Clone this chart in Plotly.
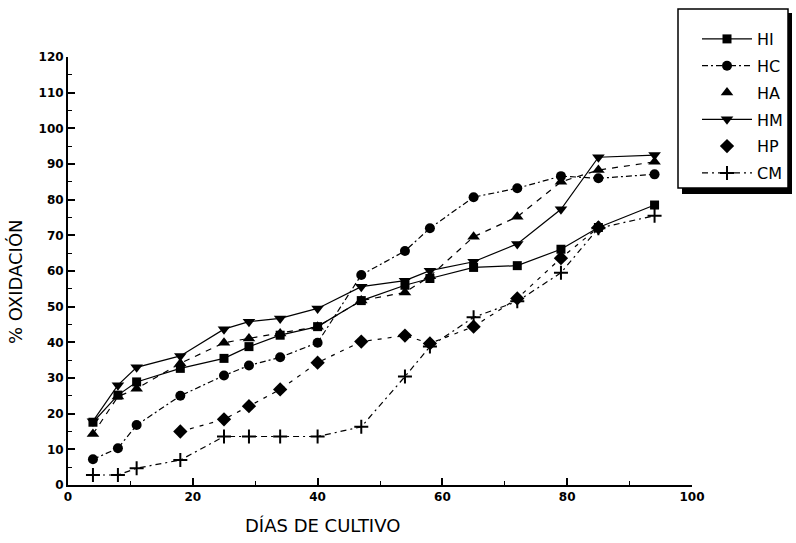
import plotly.graph_objects as go

# Días de cultivo en que se midió la oxidación
dias = [4, 8, 11, 18, 25, 29, 34, 40, 47, 54, 58, 65, 72, 79, 85, 94]

# % de oxidación por tratamiento
hi = [17.6, 25.2, 28.9, 32.7, 35.5, 38.8, 42.0, 44.4, 51.7, 56.0, 57.9, 61.0, 61.5, 66.1, 72.2, 78.5]
hc = [7.2, 10.3, 16.8, 25.0, 30.7, 33.5, 35.8, 39.9, 58.9, 65.6, 72.0, 80.7, 83.2, 86.6, 86.0, 87.1]
ha = [14.3, 24.8, 27.0, 34.1, 39.9, 41.1, 42.5, 44.4, 51.7, 54.0, 58.5, 69.6, 75.2, 85.0, 88.3, 90.6]
hm = [17.9, 28.0, 33.0, 36.2, 43.7, 45.8, 46.7, 49.5, 55.6, 57.3, 60.1, 62.6, 67.6, 77.3, 91.9, 92.5]
dias_hp = [18, 25, 29, 34, 40, 47, 54, 58, 65, 72, 79, 85]
hp = [15.0, 18.4, 22.1, 26.8, 34.3, 40.2, 41.9, 39.7, 44.4, 52.3, 63.6, 72.2]
cm = [2.8, 2.8, 4.7, 7.0, 13.6, 13.6, 13.6, 13.6, 16.3, 30.4, 38.8, 47.0, 51.5, 59.5, 72.0, 75.5]

FONT = "DejaVu Sans"
INK = "black"

# Área de trazado en píxeles (para ubicar la leyenda en coordenadas de papel)
W, H = 796, 543
ML, MR, MT, MB = 68, 104, 57, 58
PW, PH = W - ML - MR, H - MT - MB


def px_x(px):
    return (px - ML) / PW


def px_y(py):
    return (H - MB - py) / PH


fig = go.Figure()


def serie(nombre, x, y, simbolo, tam, dash, linea_en_leyenda=True):
    marker = dict(symbol=simbolo, size=tam, color=INK)
    if simbolo == "cross-thin":
        marker["line"] = dict(color=INK, width=2)
    if linea_en_leyenda:
        fig.add_trace(go.Scatter(
            x=x, y=y, name=nombre, mode="lines+markers",
            line=dict(color=INK, width=1.2, dash=dash),
            marker=marker, legendgroup=nombre,
        ))
    else:
        fig.add_trace(go.Scatter(
            x=x, y=y, name=nombre, mode="lines",
            line=dict(color=INK, width=1.2, dash=dash),
            showlegend=False, legendgroup=nombre,
        ))
        fig.add_trace(go.Scatter(
            x=x, y=y, name=nombre, mode="markers",
            marker=marker, legendgroup=nombre,
        ))


serie("HI", dias, hi, "square", 9, "solid")
serie("HC", dias, hc, "circle", 10, "6px,3px,2px,3px")
serie("HA", dias, ha, "triangle-up", 11, "6px,6px", linea_en_leyenda=False)
serie("HM", dias, hm, "triangle-down", 11, "solid")
serie("HP", dias_hp, hp, "diamond", 11, "4px,6px", linea_en_leyenda=False)
serie("CM", dias, cm, "cross-thin", 10, "6px,4px,2px,4px")

tick_font = dict(family=FONT, size=12, color=INK, weight="bold")

fig.update_layout(
    width=W, height=H,
    margin=dict(l=ML, r=MR, t=MT, b=MB, autoexpand=False),
    paper_bgcolor="white", plot_bgcolor="white",
    showlegend=True,
    legend=dict(
        x=px_x(697), y=px_y(22), xanchor="left", yanchor="top",
        bgcolor="rgba(0,0,0,0)", borderwidth=0,
        font=dict(family=FONT, size=16, color=INK),
        tracegroupgap=3, itemwidth=50,
    ),
    xaxis=dict(
        range=[0, 100], dtick=20, tick0=0,
        ticks="inside", ticklen=7, tickwidth=1.5, tickcolor=INK,
        minor=dict(dtick=10, ticks="inside", ticklen=4, tickcolor=INK, tickwidth=1.2),
        showline=True, linewidth=2, linecolor=INK,
        showgrid=False, zeroline=False,
        tickfont=tick_font,
    ),
    yaxis=dict(
        range=[0, 120], dtick=10, tick0=0,
        ticks="inside", ticklen=7, tickwidth=1.5, tickcolor=INK,
        minor=dict(dtick=5, ticks="inside", ticklen=4, tickcolor=INK, tickwidth=1.2),
        showline=True, linewidth=2, linecolor=INK,
        showgrid=False, zeroline=False,
        tickfont=tick_font,
    ),
    annotations=[
        dict(text="DÍAS DE CULTIVO", xref="paper", yref="paper",
             x=px_x(322), y=px_y(525), xanchor="center", yanchor="middle",
             showarrow=False, font=dict(family=FONT, size=18, color=INK)),
        dict(text="% OXIDACIÓN", xref="paper", yref="paper",
             x=px_x(15), y=px_y(282), xanchor="center", yanchor="middle",
             textangle=-90, showarrow=False,
             font=dict(family=FONT, size=18, color=INK)),
    ],
    shapes=[
        # sombra del recuadro de la leyenda
        dict(type="rect", xref="paper", yref="paper", layer="above",
             x0=px_x(682), x1=px_x(792), y0=px_y(194), y1=px_y(13),
             fillcolor=INK, line=dict(width=0)),
        # recuadro de la leyenda
        dict(type="rect", xref="paper", yref="paper", layer="above",
             x0=px_x(678), x1=px_x(788), y0=px_y(188), y1=px_y(9),
             fillcolor="white", line=dict(color=INK, width=1.5)),
    ],
)

fig.write_html("out.html")
